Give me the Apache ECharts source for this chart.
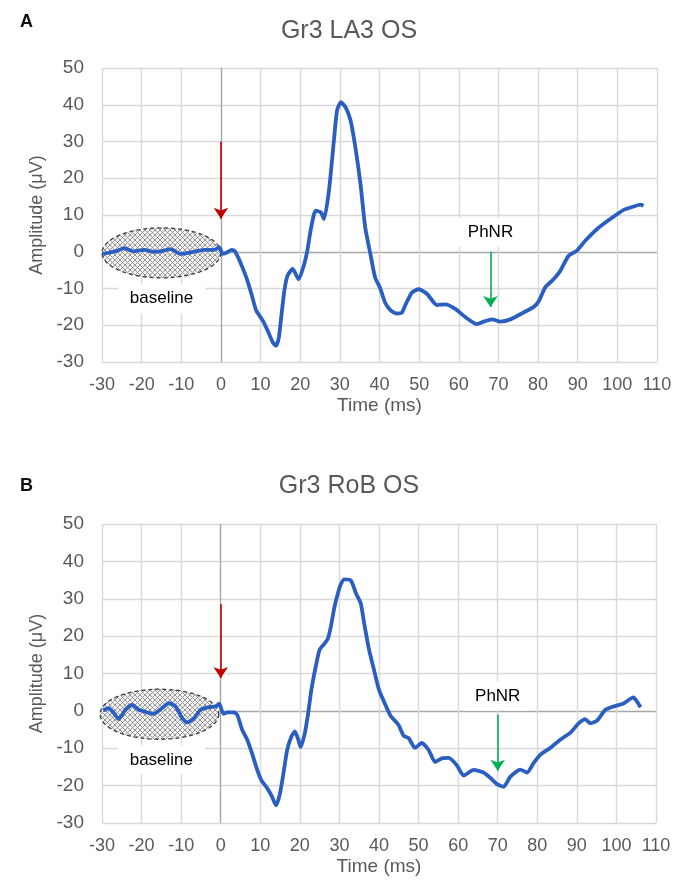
<!DOCTYPE html>
<html><head><meta charset="utf-8">
<script src="https://cdn.jsdelivr.net/npm/echarts@6/dist/echarts.min.js"></script>
<style>html,body{margin:0;padding:0;background:#fff}#c{width:686px;height:886px}</style>
</head><body><div id="c"></div><script>
// ---- Data ----
const titleA = 'Gr3 LA3 OS';
const titleB = 'Gr3 RoB OS';
const xTicks = [-30,-20,-10,0,10,20,30,40,50,60,70,80,90,100,110];
const yTicks = [-30,-20,-10,0,10,20,30,40,50];

const timeA = [-30,-28,-26,-24.5,-22,-19.4,-17,-15.2,-12.7,-10.1,-7.6,-4.2,-1.7,-0.4,0.4,1.5,2.7,3.5,4.75,6.4,7.7,8.9,10.6,11.8,13.1,13.9,14.6,15.2,16,16.8,18.1,19.6,21,21.8,22.7,23.9,25.2,26,27.25,28.5,29.3,30.3,31.4,32.7,33.9,35.2,36.4,37.7,38.9,40.2,41.4,42.7,44.3,45.6,46.6,48.2,49.9,52,54.5,56.6,59.2,61.3,64.6,66.3,68.4,70.5,73,76.4,78.9,80.2,81.8,83.9,85.6,87.7,89.8,91.9,94.9,98.2,101.6,104.1,105.8,106.6];
const ampA  = [-0.6,-0.2,0.3,1.0,0.1,0.5,0.0,0.1,0.7,-0.6,-0.2,0.5,0.5,1.2,-0.6,-0.2,0.5,0.2,-2.5,-7,-11.5,-16,-18.8,-21.5,-24.7,-25.6,-23.4,-17.9,-10.6,-6.5,-4.7,-7.5,-3.4,0.3,6.2,11.2,10.7,8.9,16.6,30.3,38.5,40.7,39.4,35.7,28.5,18.5,6.6,-0.6,-7,-10,-13.8,-15.8,-16.8,-16.6,-14.3,-11.1,-10.2,-11.5,-14.5,-14.3,-15.6,-17.5,-19.7,-19,-18.4,-19,-18.4,-16.5,-15,-13.4,-9.7,-7.5,-5.2,-1.1,0.3,3,6.2,8.9,11.4,12.3,12.8,12.5];

const timeB = [-29.7,-28.3,-27,-25.8,-24.1,-22.4,-20.7,-18.6,-16.9,-15.2,-13.1,-11.4,-9.7,-8.5,-6.8,-5.1,-3,-1.3,-0.4,0.7,1.7,3.3,4.2,5.4,6.7,7.9,9.2,10.4,11.7,12.9,14,15,16,16.8,17.9,18.75,19.6,20.2,21.25,22.1,22.9,24,25,26.25,27.1,27.9,28.75,29.6,30.4,31.25,32.9,34.2,35.4,36.25,37.5,38.75,40,41.25,42.9,44.9,46.2,47.5,49.1,50.8,52.5,54.2,55.9,57.6,59.7,61.4,63.9,66.4,68.1,69.8,71.5,73.2,75.7,77.4,79.1,80.8,83.3,85.8,88.3,90.5,92.1,93.4,95.1,97.2,99.3,101.8,104.3,105.2,106.1];
const ampB  = [0.1,0.7,-0.6,-2.2,0.3,1.6,0.3,-0.4,-0.8,0.4,2.1,1.2,-2,-3.1,-2,0.3,1,1.2,1.9,-0.8,-0.4,-0.4,-1.1,-5,-7.7,-11.3,-15.7,-18.8,-20.6,-22.8,-25.3,-22,-15.7,-10.4,-6.8,-5.5,-7.7,-9.7,-6,-0.6,5.6,11.8,16.4,18,19.4,22.9,27.8,31.4,34,35.2,34.9,31.4,28.7,23.4,16.3,10.9,5.6,2.5,-1.3,-3.7,-6.6,-7.3,-9.9,-8.6,-10.4,-13.7,-12.7,-12.6,-14.6,-17.3,-15.8,-16.5,-17.9,-19.6,-20.3,-17.6,-15.7,-16.5,-13.9,-11.7,-9.9,-7.7,-5.9,-3.3,-2.2,-3.3,-2.6,0.3,1.2,2,3.6,2.5,1];

// annotations: [centerTime, centerAmp, halfWidthMs, halfHeightUV]
const baselineA = [-15, -0.3, 15, 6.8];
const baselineB = [-15.5, -0.9, 15, 6.7];
// label positions: [time, amp, text]
const labelsA = [[-15, -12.8, 'baseline'], [68, 5.3, 'PhNR']];
const labelsB = [[-15, -13.1, 'baseline'], [70, 4.0, 'PhNR']];
// arrows: [time, fromAmp, toAmp]
const redArrowA = [0, 30, 9];
const greenArrowA = [68, 0, -15];
const redArrowB = [0, 28.5, 8.8];
const greenArrowB = [70, -1, -16];

// ---- Chart ----
function hatchCanvas(){
  const c = document.createElement('canvas'); c.width = 5; c.height = 5;
  const g = c.getContext('2d');
  g.fillStyle = '#f2f2f2'; g.fillRect(0,0,5,5);
  g.strokeStyle = '#8c8c8c'; g.lineWidth = 0.9;
  g.beginPath(); g.moveTo(0,0); g.lineTo(5,5); g.moveTo(5,0); g.lineTo(0,5); g.stroke();
  return c;
}
const pat = hatchCanvas();
const FONT = '"Liberation Sans", Arial, sans-serif';
const gridColors = xTicks.map(v => v === 0 ? '#a6a6a6' : '#d9d9d9');
const yGridColors = yTicks.map(v => v === 0 ? '#a6a6a6' : '#d9d9d9');

function mkX(i){
  return {type:'value', gridIndex:i, min:-30, max:110, interval:10,
    name:'Time (ms)', nameLocation:'middle', nameGap:34,
    nameTextStyle:{color:'#595959', fontSize:19, fontFamily:FONT},
    axisLine:{show:false}, axisTick:{show:false},
    axisLabel:{color:'#595959', fontSize:18, fontFamily:FONT, margin:14},
    splitLine:{show:true, lineStyle:{color:gridColors, width:1.4}}};
}
function mkY(i){
  return {type:'value', gridIndex:i, min:-30, max:50, interval:10,
    name:'Amplitude (μV)', nameLocation:'middle', nameGap:52, nameRotate:90,
    nameTextStyle:{color:'#595959', fontSize:18, fontFamily:FONT},
    axisLine:{show:false}, axisTick:{show:false},
    axisLabel:{color:'#595959', fontSize:19, fontFamily:FONT, margin:18},
    splitLine:{show:true, lineStyle:{color:yGridColors, width:1.4}}};
}
function ellipseSeries(i, e){
  return {type:'custom', xAxisIndex:i, yAxisIndex:i, z:1, silent:true, clip:false,
    data:[e],
    renderItem:(params, api) => {
      const p1 = api.coord([api.value(0)-api.value(2), api.value(1)+api.value(3)]);
      const p2 = api.coord([api.value(0)+api.value(2), api.value(1)-api.value(3)]);
      const cx=(p1[0]+p2[0])/2, cy=(p1[1]+p2[1])/2, rx=(p2[0]-p1[0])/2, ry=(p2[1]-p1[1])/2;
      const pts=[];
      for(let k=0;k<72;k++){const a=k/72*Math.PI*2; pts.push([cx+rx*Math.cos(a), cy+ry*Math.sin(a)]);}
      return {type:'polygon', shape:{points:pts},
        style:{fill:{image:pat, repeat:'repeat'}, stroke:'#3a3a3a', lineWidth:1.3, lineDash:[4,3]}};
    }};
}
function curveSeries(i, t, v, red, green){
  return {type:'line', xAxisIndex:i, yAxisIndex:i, z:5, silent:true,
    data:t.map((x,k)=>[x, v[k]]), showSymbol:false, smooth:0.2,
    lineStyle:{color:'#2a5fc1', width:3.8}, animation:false,
    markLine:{silent:true, symbol:['none','arrow'], symbolSize:11, animation:false,
      label:{show:false},
      data:[
        [{coord:[red[0], red[1]], lineStyle:{color:'#c00000', width:1.6, type:'solid'}, itemStyle:{color:'#c00000'}},
         {coord:[red[0], red[2]]}],
        [{coord:[green[0], green[1]], lineStyle:{color:'#00b050', width:1.6, type:'solid'}, itemStyle:{color:'#00b050'}},
         {coord:[green[0], green[2]]}]
      ]}};
}
function labelSeries(i, labels){
  return {type:'scatter', xAxisIndex:i, yAxisIndex:i, z:3, silent:true,
    data:labels, symbolSize:2, itemStyle:{color:'rgba(0,0,0,0)'},
    label:{show:true, position:'inside', formatter:p=>p.value[2],
      color:'#000000', opacity:1, fontSize:17, fontFamily:FONT, backgroundColor:'#ffffff',
      padding:[6,12]}};
}

const chart = echarts.init(document.getElementById('c'), null, {renderer:'canvas'});
chart.setOption({
  animation:false,
  backgroundColor:'#ffffff',
  grid:[
    {left:102, top:68, width:555, height:294},
    {left:102, top:524, width:554, height:299}
  ],
  xAxis:[mkX(0), mkX(1)],
  yAxis:[mkY(0), mkY(1)],
  graphic:[
    {type:'text', left:20, top:13, style:{text:'A', fontSize:18, fontWeight:'bold', fill:'#111', fontFamily:FONT}},
    {type:'text', left:20, top:477, style:{text:'B', fontSize:18, fontWeight:'bold', fill:'#111', fontFamily:FONT}},
    {type:'text', x:349, y:31, style:{text:titleA, fontSize:25, fill:'#595959', fontFamily:FONT, align:'center', verticalAlign:'middle'}},
    {type:'text', x:349, y:486, style:{text:titleB, fontSize:25, fill:'#595959', fontFamily:FONT, align:'center', verticalAlign:'middle'}}
  ],
  series:[
    ellipseSeries(0, baselineA),
    labelSeries(0, labelsA),
    curveSeries(0, timeA, ampA, redArrowA, greenArrowA),
    ellipseSeries(1, baselineB),
    labelSeries(1, labelsB),
    curveSeries(1, timeB, ampB, redArrowB, greenArrowB)
  ]
});
</script></body></html>
